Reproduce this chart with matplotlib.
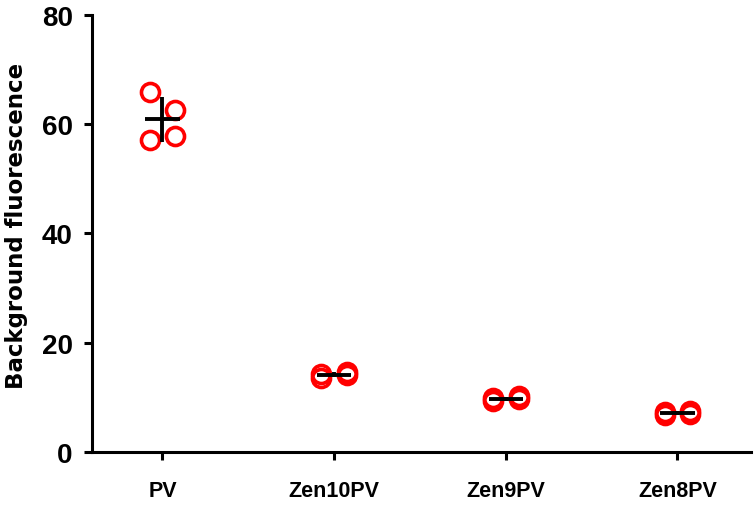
import numpy as np
import matplotlib.pyplot as plt

plt.rcParams['font.family'] = ['Liberation Sans', 'DejaVu Sans']
plt.rcParams['font.weight'] = 'bold'

# Data (first two points left of centre, last two right)
groups = ["PV", "Zen10PV", "Zen9PV", "Zen8PV"]
pv = [65.9, 57.1, 62.6, 57.8]
zen10 = [13.6, 14.2, 14.6, 14.1]
zen9 = [9.3, 9.8, 10.2, 9.6]
zen8 = [6.8, 7.3, 7.5, 7.0]
jitter = [-0.075, -0.075, 0.075, 0.075]

data = [pv, zen10, zen9, zen8]

fig = plt.figure(figsize=(7.55, 5.1), dpi=100)
ax = fig.add_axes([0.122, 0.112, 0.873, 0.857])

for i, vals in enumerate(data):
    xs = [i + j for j in jitter]
    ax.plot(xs, vals, 'o', ms=13, mfc='none', mec='#ff0000', mew=2.6,
            zorder=2)
    m = np.mean(vals)
    sd = np.std(vals, ddof=1)
    ax.hlines(m, i - 0.1, i + 0.1, color='black', lw=2.8, zorder=3)
    ax.vlines(i, m - sd, m + sd, color='black', lw=2.8, zorder=3)

ax.set_xlim(-0.41, 3.43)
ax.set_ylim(0, 80)
ax.set_yticks([0, 20, 40, 60, 80])
ax.set_xticks(range(len(groups)))
ax.set_xticklabels(groups)
ax.set_ylabel("Background fluorescence", fontsize=16.5, fontweight='bold',
              family=['DejaVu Sans'])
ax.yaxis.set_label_coords(-0.097, 0.52)

for s in ['top', 'right']:
    ax.spines[s].set_visible(False)
for s in ['left', 'bottom']:
    ax.spines[s].set_linewidth(2.2)
ax.tick_params(axis='y', length=6, width=2.2, labelsize=20, pad=8)
ax.tick_params(axis='x', length=6, width=2.2, labelsize=15.5, pad=14)

plt.savefig("out.png", dpi=100)
